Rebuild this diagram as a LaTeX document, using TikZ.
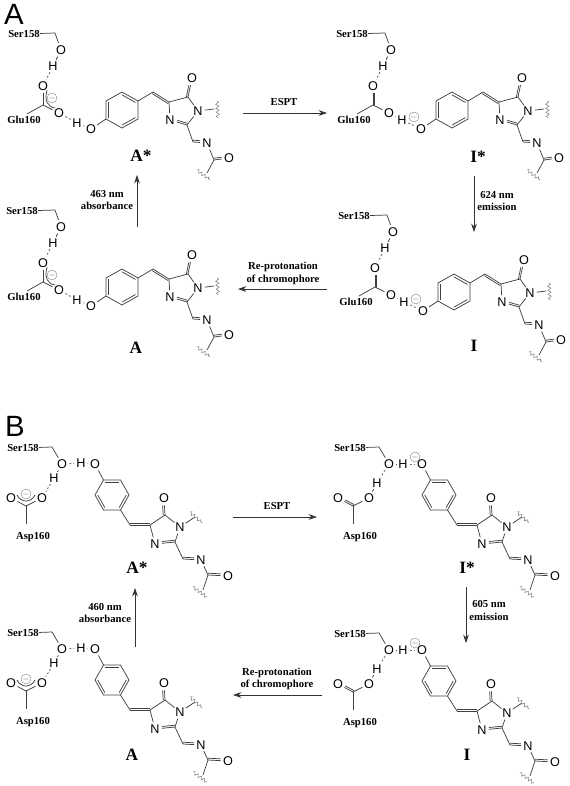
\documentclass[tikz,border=0pt]{standalone}
\usepackage{fontspec}
\setmainfont{Liberation Serif}
\setsansfont{Liberation Sans}
\usetikzlibrary{arrows.meta, calc, decorations.pathmorphing}

\begin{document}
\begin{tikzpicture}[
    x=0.75pt, y=-0.75pt,
    bond/.style={draw=black!75, line width=0.55pt},
    dbl/.style={bond, postaction={draw=black!75, transform canvas={shift={(#1)}}}},
    hbond/.style={draw=black!55, line width=0.7pt, dash pattern=on 1.5pt off 1.5pt},
    wavy/.style={draw=black!50, line width=0.4pt, decorate,
        decoration={snake, amplitude=1.2pt, segment length=3pt}},
    atom/.style={circle, inner sep=0.2pt, font=\sffamily\fontsize{9.5}{10}\selectfont},
    chrg/.style={circle, draw=black!50, line width=0.3pt, inner sep=0pt, minimum size=6pt,
        text=black!60, font=\fontsize{6}{6}\selectfont},
    residue/.style={inner sep=0pt, font=\bfseries\fontsize{8}{9}\selectfont},
    state/.style={inner sep=0pt, font=\bfseries\fontsize{13}{14}\selectfont},
    capt/.style={inner sep=0pt, align=center, font=\bfseries\fontsize{8}{9.6}\selectfont},
    panel/.style={inner sep=0pt, font=\sffamily\fontsize{22}{22}\selectfont},
    arrow/.style={-{Stealth[length=2.2mm, width=1.5mm]}, draw=black!80, line width=0.55pt}
]
\useasboundingbox (0,0) rectangle (569,786);

% Panel letters
\node[panel] (panela) at (14,14) {A};
\node[panel] (panelb) at (15,426) {B};

% Panel A: chromophore, Ser158 and Glu160
\foreach \nm/\cx/\cy/\sx in {as/122/110/-98, is/452/110/-100, ag/122/287/-100, ig/454/292/-100} {
\begin{scope}[shift={(\cx,\cy)}]
    \coordinate (\nm-ctr) at (0,0);
    \coordinate (\nm-r1) at (0,-18);
    \coordinate (\nm-r2) at (16,-9);
    \coordinate (\nm-r3) at (16,9);
    \coordinate (\nm-r4) at (0,18);
    \coordinate (\nm-r5) at (-16,9);
    \coordinate (\nm-r6) at (-16,-9);
    \coordinate (\nm-ch) at (31,-18);
    \coordinate (\nm-c4) at (47,-8);
    \coordinate (\nm-c5) at (66,-13);
    \coordinate (\nm-c2) at (65,15);
    \coordinate (\nm-cn) at (71,32);
    \coordinate (\nm-cc) at (92,50);
    \coordinate (\nm-ct) at (85,63);
    \coordinate (\nm-me) at (92,-1);
    \coordinate (\nm-wa) at (75,60);
    \coordinate (\nm-wb) at (88,70);
    \coordinate (\nm-wc) at (95,-9);
    \coordinate (\nm-wd) at (96,8);
    \node[atom] (\nm-op) at (-31,19) {O};
    \node[atom] (\nm-o5) at (70,-32) {O};
    \node[atom] (\nm-n1) at (76,1) {N};
    \node[atom] (\nm-n3) at (48,10) {N};
    \node[atom] (\nm-nn) at (85,33) {N};
    \node[atom] (\nm-oc) at (107,48) {O};
    % Ring
    \draw[bond] (\nm-r1) -- (\nm-r2) -- (\nm-r3) -- (\nm-r4) -- (\nm-r5) -- (\nm-r6) -- cycle;
    \draw[bond] ($(\nm-r1)!.16!(\nm-ctr)$) -- ($(\nm-r2)!.16!(\nm-ctr)$);
    \draw[bond] ($(\nm-r3)!.16!(\nm-ctr)$) -- ($(\nm-r4)!.16!(\nm-ctr)$);
    \draw[bond] ($(\nm-r5)!.16!(\nm-ctr)$) -- ($(\nm-r6)!.16!(\nm-ctr)$);
    \draw[bond] (\nm-op) -- (\nm-r5);
    % Imidazolinone
    \draw[bond] (\nm-r2) -- (\nm-ch);
    \draw[dbl={-0.8,1.6}] (\nm-ch) -- (\nm-c4);
    \draw[bond] (\nm-c4) -- (\nm-c5);
    \draw[bond] (\nm-c4) -- (\nm-n3);
    \draw[dbl={-1.7,0.3}] (\nm-c5) -- (\nm-o5);
    \draw[bond] (\nm-c5) -- (\nm-n1);
    \draw[bond] (\nm-n1) -- (\nm-c2);
    \draw[dbl={0.5,-1.7}] (\nm-n3) -- (\nm-c2);
    \draw[bond] (\nm-c2) -- (\nm-cn);
    \draw[dbl={0,-1.8}] (\nm-cn) -- (\nm-nn);
    \draw[bond] (\nm-nn) -- (\nm-cc);
    \draw[dbl={0,-1.8}] (\nm-cc) -- (\nm-oc);
    \draw[bond] (\nm-cc) -- (\nm-ct);
    \draw[bond] (\nm-n1) -- (\nm-me);
    \draw[wavy] (\nm-wa) -- (\nm-wb);
    \draw[wavy] (\nm-wc) -- (\nm-wd);
    % Ser158 and Glu160
    \node[residue] (\nm-ser) at (\sx,-76) {Ser158};
    \coordinate (\nm-sa) at (-67,-77);
    \node[atom] (\nm-os) at (-61,-60) {O};
    \node[atom] (\nm-hs) at (-69,-44) {H};
    \node[atom] (\nm-oa) at (-79,-24) {O};
    \coordinate (\nm-ca) at (-79,-5);
    \node[atom] (\nm-ob) at (-63,3) {O};
    \coordinate (\nm-cm) at (-95,4);
    \node[residue] (\nm-glu) at (-98,10) {Glu160};
    \draw[bond] (\nm-ser) -- (\nm-sa) -- (\nm-os);
    \draw[bond] (\nm-os) -- (\nm-hs);
    \draw[hbond] (\nm-hs) -- (\nm-oa);
    \draw[bond] (\nm-ca) -- (\nm-ob);
    \draw[bond] (\nm-ca) -- (\nm-cm);
\end{scope}
}

% Panel A: proton on the chromophore
\foreach \nm/\cx/\cy in {as/122/110, ag/122/287} {
\begin{scope}[shift={(\cx,\cy)}]
    \node[atom] (\nm-hp) at (-45,13) {H};
    \coordinate (\nm-da) at (-75,-20);
    \coordinate (\nm-db) at (-67,-2);
    \node[chrg] (\nm-neg) at (-70,-12) {$-$};
    \draw[bond] (\nm-oa) -- (\nm-ca);
    \draw[bond] (\nm-da) .. controls (-78,-9) and (-74,-3) .. (\nm-db);
    \draw[hbond] (\nm-ob) -- (\nm-hp);
    \draw[bond] (\nm-hp) -- (\nm-op);
\end{scope}
}

% Panel A: proton on the acid
\foreach \nm/\cx/\cy in {is/452/110, ig/454/292} {
\begin{scope}[shift={(\cx,\cy)}]
    \node[atom] (\nm-hp) at (-50,10) {H};
    \node[chrg] (\nm-neg) at (-38,7) {$-$};
    \draw[dbl={1.8,0}] (\nm-oa) -- (\nm-ca);
    \draw[bond] (\nm-ob) -- (\nm-hp);
    \draw[hbond] (\nm-hp) -- (\nm-op);
\end{scope}
}

% Panel B: chromophore, Ser158 and Asp160
\foreach \nm/\cx/\cy in {bs/112/495, js/439/495, bg/112/680, jg/439/681} {
\begin{scope}[shift={(\cx,\cy)}]
    \coordinate (\nm-ctr) at (0,0);
    \coordinate (\nm-r1) at (-8.5,-15);
    \coordinate (\nm-r2) at (8.5,-15);
    \coordinate (\nm-r3) at (17,0);
    \coordinate (\nm-r4) at (8.5,15);
    \coordinate (\nm-r5) at (-8.5,15);
    \coordinate (\nm-r6) at (-17,0);
    \coordinate (\nm-ch) at (18,30);
    \coordinate (\nm-c4) at (38,30);
    \coordinate (\nm-c5) at (53,20);
    \coordinate (\nm-c2) at (63,47);
    \coordinate (\nm-cn) at (71,64);
    \coordinate (\nm-cc) at (96,80);
    \coordinate (\nm-ct) at (91,95);
    \coordinate (\nm-me) at (83,22);
    \coordinate (\nm-wa) at (81,92);
    \coordinate (\nm-wb) at (95,102);
    \coordinate (\nm-wc) at (78,17);
    \coordinate (\nm-wd) at (90,28);
    \node[atom] (\nm-op) at (-17,-31) {O};
    \node[atom] (\nm-o5) at (52,3) {O};
    \node[atom] (\nm-n1) at (68,32) {N};
    \node[atom] (\nm-n3) at (43,49) {N};
    \node[atom] (\nm-nn) at (89,65) {N};
    \node[atom] (\nm-oc) at (116,81) {O};
    % Ring
    \draw[bond] (\nm-r1) -- (\nm-r2) -- (\nm-r3) -- (\nm-r4) -- (\nm-r5) -- (\nm-r6) -- cycle;
    \draw[bond] ($(\nm-r1)!.16!(\nm-ctr)$) -- ($(\nm-r2)!.16!(\nm-ctr)$);
    \draw[bond] ($(\nm-r3)!.16!(\nm-ctr)$) -- ($(\nm-r4)!.16!(\nm-ctr)$);
    \draw[bond] ($(\nm-r5)!.16!(\nm-ctr)$) -- ($(\nm-r6)!.16!(\nm-ctr)$);
    \draw[bond] (\nm-op) -- (\nm-r1);
    % Imidazolinone
    \draw[bond] (\nm-r4) -- (\nm-ch);
    \draw[dbl={0,-1.8}] (\nm-ch) -- (\nm-c4);
    \draw[bond] (\nm-c4) -- (\nm-c5);
    \draw[bond] (\nm-c4) -- (\nm-n3);
    \draw[dbl={-1.8,0}] (\nm-c5) -- (\nm-o5);
    \draw[bond] (\nm-c5) -- (\nm-n1);
    \draw[bond] (\nm-n1) -- (\nm-c2);
    \draw[dbl={0,-1.8}] (\nm-n3) -- (\nm-c2);
    \draw[bond] (\nm-c2) -- (\nm-cn);
    \draw[dbl={0,-1.8}] (\nm-cn) -- (\nm-nn);
    \draw[bond] (\nm-nn) -- (\nm-cc);
    \draw[dbl={0,-1.8}] (\nm-cc) -- (\nm-oc);
    \draw[bond] (\nm-cc) -- (\nm-ct);
    \draw[bond] (\nm-n1) -- (\nm-me);
    \draw[wavy] (\nm-wa) -- (\nm-wb);
    \draw[wavy] (\nm-wc) -- (\nm-wd);
    % Ser158 and Asp160
    \node[residue] (\nm-ser) at (-89,-47) {Ser158};
    \coordinate (\nm-sa) at (-60,-48);
    \node[atom] (\nm-os) at (-50,-31) {O};
    \node[atom] (\nm-oa) at (-101,3) {O};
    \coordinate (\nm-ca) at (-86,11);
    \coordinate (\nm-cm) at (-86,29);
    \node[atom] (\nm-ob) at (-70,3) {O};
    \node[residue] (\nm-asp) at (-79,42) {Asp160};
    \draw[bond] (\nm-ser) -- (\nm-sa) -- (\nm-os);
    \draw[bond] (\nm-ca) -- (\nm-ob);
    \draw[bond] (\nm-ca) -- (\nm-cm);
\end{scope}
}

% Panel B: proton on the chromophore
\foreach \nm/\cx/\cy in {bs/112/495, bg/112/680} {
\begin{scope}[shift={(\cx,\cy)}]
    \node[atom] (\nm-hs) at (-58,-17) {H};
    \node[atom] (\nm-hp) at (-31,-32) {H};
    \coordinate (\nm-da) at (-95,0);
    \coordinate (\nm-db) at (-77,0);
    \node[chrg] (\nm-neg) at (-86,-1) {$-$};
    \draw[bond] (\nm-oa) -- (\nm-ca);
    \draw[bond] (\nm-da) .. controls (-91,8) and (-81,8) .. (\nm-db);
    \draw[bond] (\nm-os) -- (\nm-hs);
    \draw[hbond] (\nm-hs) -- (\nm-ob);
    \draw[hbond] (\nm-os) -- (\nm-hp);
    \draw[bond] (\nm-hp) -- (\nm-op);
\end{scope}
}

% Panel B: proton on the acid
\foreach \nm/\cx/\cy in {js/439/495, jg/439/681} {
\begin{scope}[shift={(\cx,\cy)}]
    \node[atom] (\nm-hs) at (-62,-12) {H};
    \node[atom] (\nm-hp) at (-36,-31) {H};
    \node[chrg] (\nm-neg) at (-24,-38) {$-$};
    \draw[dbl={0.9,-1.5}] (\nm-oa) -- (\nm-ca);
    \draw[hbond] (\nm-os) -- (\nm-hs);
    \draw[bond] (\nm-hs) -- (\nm-ob);
    \draw[bond] (\nm-os) -- (\nm-hp);
    \draw[hbond] (\nm-hp) -- (\nm-op);
\end{scope}
}

% State labels
\node[state] (asta) at (141,156) {A*};
\node[state] (ista) at (478,157) {I*};
\node[state] (agrd) at (136,348) {A};
\node[state] (igrd) at (474,346) {I};
\node[state] (bsta) at (137,568) {A*};
\node[state] (jsta) at (467,568) {I*};
\node[state] (bgrd) at (132,755) {A};
\node[state] (jgrd) at (467,755) {I};

% Arrows, panel A
\coordinate (e1) at (243,113);
\coordinate (e2) at (327,113);
\coordinate (m1) at (474,176);
\coordinate (m2) at (474,232);
\coordinate (p1) at (327,289);
\coordinate (p2) at (238,289);
\coordinate (u1) at (137,227);
\coordinate (u2) at (137,175);
\draw[arrow] (e1) -- (e2);
\draw[arrow] (m1) -- (m2);
\draw[arrow] (p1) -- (p2);
\draw[arrow] (u1) -- (u2);
\node[capt] (espta) at (284,102) {ESPT};
\node[capt] (emia) at (497,201) {624 nm\\emission};
\node[capt] (repa) at (283,273.5) {Re-protonation\\of chromophore};
\node[capt] (absa) at (107,200) {463 nm\\absorbance};

% Arrows, panel B
\coordinate (f1) at (233,517);
\coordinate (f2) at (317,517);
\coordinate (n1) at (466,587);
\coordinate (n2) at (466,643);
\coordinate (q1) at (322,695);
\coordinate (q2) at (233,695);
\coordinate (v1) at (135,647);
\coordinate (v2) at (135,588);
\draw[arrow] (f1) -- (f2);
\draw[arrow] (n1) -- (n2);
\draw[arrow] (q1) -- (q2);
\draw[arrow] (v1) -- (v2);
\node[capt] (esptb) at (277,506) {ESPT};
\node[capt] (emib) at (489,610.5) {605 nm\\emission};
\node[capt] (repb) at (277,679) {Re-protonation\\of chromophore};
\node[capt] (absb) at (105,613) {460 nm\\absorbance};

\end{tikzpicture}
\end{document}
